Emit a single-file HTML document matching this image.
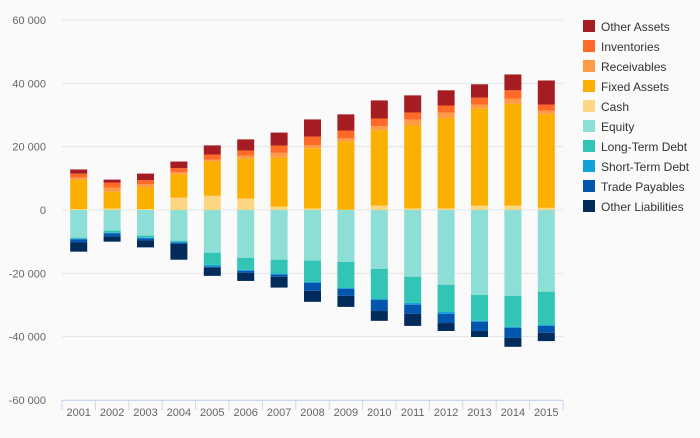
<!DOCTYPE html>
<html><head><meta charset="utf-8"><style>
body{margin:0;background:#fafafa;font-family:"Liberation Sans",sans-serif}
svg text{font-family:"Liberation Sans",sans-serif}
</style></head><body>
<svg id="c" width="700" height="433"></svg>
<script>
const years=["2001","2002","2003","2004","2005","2006","2007","2008","2009","2010","2011","2012","2013","2014","2015"];
const cash=[0.3,0.5,0.3,3.9,4.5,3.6,1.05,0.5,0.1,1.4,0.5,0.5,1.4,1.4,0.7];
const fixedAssets=[9.2,5.3,6.8,7.4,10.8,12.6,15.5,19.0,21.5,23.8,26.2,28.4,30.7,32.2,29.5];
const receivables=[0.7,1.3,1.0,0.6,0.6,1.0,1.5,1.0,1.0,1.3,1.9,1.9,1.2,1.6,1.2];
const inventories=[1.3,1.55,1.3,1.3,1.6,1.6,2.3,2.7,2.5,2.4,2.2,2.2,2.2,2.6,1.9];
const otherAssets=[1.3,0.95,2.1,2.1,2.9,3.5,4.1,5.4,5.1,5.7,5.4,4.8,4.2,5.0,7.6];
const equity=[8.75,6.5,8.1,9.7,13.5,15.1,15.7,16.0,16.35,18.6,21.1,23.6,26.8,27.1,25.8];
const longTermDebt=[0.3,0.7,0.65,0.3,3.8,3.8,4.4,6.7,8.25,9.5,8.2,8.6,8.2,9.8,10.4];
const shortTermDebt=[0.2,0.2,0.2,0.3,0.6,0.3,0.3,0.3,0.3,0.3,0.6,0.6,0.3,0.3,0.4];
const tradePayables=[1.0,1.0,0.65,0.35,0.3,0.6,0.7,2.5,2.2,3.5,2.9,2.9,2.9,3.2,2.2];
const otherLiabilities=[2.9,1.6,2.2,5.05,2.6,2.6,3.4,3.5,3.5,3.1,3.8,2.5,1.9,2.8,2.6];
const yTicks=[60000,40000,20000,0,-20000,-40000,-60000];

const NS="http://www.w3.org/2000/svg",svg=document.getElementById('c');
const L=62,R=563,T=20,B=400;
const y=v=>T+(60000-v)/120000*(B-T);
const band=(R-L)/years.length;
const x=i=>L+band*i+band/2;
function el(t,a,p){const e=document.createElementNS(NS,t);for(const k in a)e.setAttribute(k,a[k]);(p||svg).appendChild(e);return e;}
const g=el('g',{});
yTicks.forEach(v=>{
 const l=el('line',{x1:L,x2:R,y1:y(v),y2:y(v),stroke:'#e4e4e4','stroke-width':1},g);
 
 const t=el('text',{x:46,y:y(v)+4,'text-anchor':'end','font-size':11,fill:'#666'});
 t.textContent=v===0?'0':(v<0?'-':'')+Math.abs(v/1000)+' 000';
 
});
const ax=el('line',{x1:L,x2:R,y1:B+0.5,y2:B+0.5,stroke:'#ccd6eb'});

for(let i=0;i<=years.length;i++){const tk=el('line',{x1:L+band*i,x2:L+band*i,y1:B,y2:B+10,stroke:'#ccd6eb'});}
years.forEach((yr,i)=>{const t=el('text',{x:x(i),y:416,'text-anchor':'middle','font-size':11,fill:'#666'});t.textContent=yr;});
const pos=[["Cash",cash,"#fdd683"],["Fixed Assets",fixedAssets,"#fbb000"],["Receivables",receivables,"#ff9a46"],["Inventories",inventories,"#ff6a28"],["Other Assets",otherAssets,"#a51c22"]];
const neg=[["Equity",equity,"#8ddfd5"],["Long-Term Debt",longTermDebt,"#32c4b4"],["Short-Term Debt",shortTermDebt,"#11a3d8"],["Trade Payables",tradePayables,"#0356ad"],["Other Liabilities",otherLiabilities,"#002b5a"]];
const bw=17;
years.forEach((yr,i)=>{
 let acc=0;
 pos.forEach(s=>{const v=s[1][i]*1000;const r=el('rect',{x:x(i)-bw/2,y:y(acc+v),width:bw,height:y(acc)-y(acc+v),fill:s[2]});acc+=v;});
 acc=0;
 neg.forEach(s=>{const v=s[1][i]*1000;const r=el('rect',{x:x(i)-bw/2,y:y(acc),width:bw,height:y(acc-v)-y(acc),fill:s[2]});acc-=v;});
});
const legend=[...pos].reverse().concat(neg);
legend.forEach((s,k)=>{
 const ly=20+k*20;
 const lg=el('g',{});
 el('rect',{x:583,y:ly,width:12,height:12,fill:s[2]},lg);
 const t=el('text',{x:601,y:ly+11,'font-size':12,fill:'#333'},lg);t.textContent=s[0];
});
</script>
</body></html>
